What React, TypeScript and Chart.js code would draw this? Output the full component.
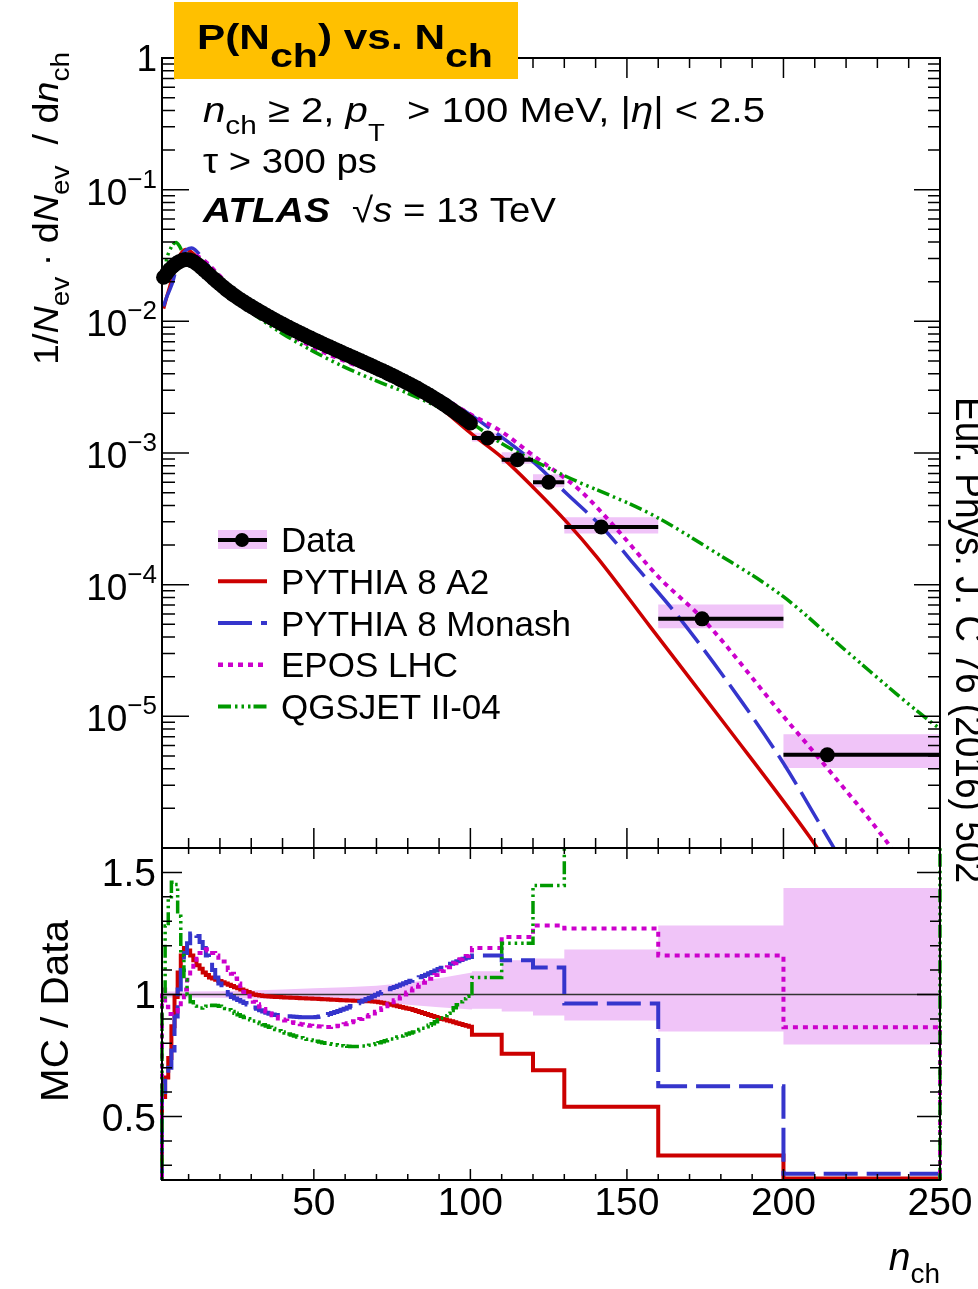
import React, { useEffect, useRef } from 'react';
import { Chart, registerables } from 'chart.js';

Chart.register(...registerables);

const W = 978;
const H = 1289;
const FONT = '"Liberation Sans", Arial, Helvetica, sans-serif';

// ---------------- axis ticks / labels ----------------
const xTickValues = [50, 100, 150, 200, 250];
const xTickLabels = ['50', '100', '150', '200', '250'];
const topTickValues = [1, 1e-1, 1e-2, 1e-3, 1e-4, 1e-5];
const topTickExponents = [0, -1, -2, -3, -4, -5];
const ratioTickValues = [0.5, 1, 1.5];
const ratioTickLabels = ['0.5', '1', '1.5'];
const legendLabels = ['Data', 'PYTHIA 8 A2', 'PYTHIA 8 Monash', 'EPOS LHC', 'QGSJET II-04'];

// ---------------- measured distribution (unit bins) ----------------
const nchFine = [
  2, 3, 4, 5, 6, 7, 8, 9, 10, 11, 12, 13, 14, 15, 16, 17, 18, 19, 20, 21,
  22, 23, 24, 25, 26, 27, 28, 29, 30, 31, 32, 33, 34, 35, 36, 37, 38, 39, 40, 41,
  42, 43, 44, 45, 46, 47, 48, 49, 50, 51, 52, 53, 54, 55, 56, 57, 58, 59, 60, 61,
  62, 63, 64, 65, 66, 67, 68, 69, 70, 71, 72, 73, 74, 75, 76, 77, 78, 79, 80, 81,
  82, 83, 84, 85, 86, 87, 88, 89, 90, 91, 92, 93, 94, 95, 96, 97, 98, 99, 100,
];
const dataFine = [
  0.0216, 0.0232, 0.0248, 0.0262, 0.0274, 0.0284, 0.0291, 0.0295, 0.0294, 0.0289,
  0.028, 0.0269, 0.0257, 0.0245, 0.0233, 0.0222, 0.0211, 0.0201, 0.0192, 0.0183,
  0.0175, 0.0168, 0.0161, 0.0155, 0.0149, 0.0144, 0.0139, 0.0134, 0.013, 0.01258,
  0.01217, 0.01179, 0.01142, 0.01107, 0.01073, 0.01041, 0.0101, 0.00981, 0.00953, 0.00926,
  0.009, 0.00876, 0.00852, 0.00829, 0.00807, 0.00786, 0.00765, 0.00746, 0.00726, 0.00708,
  0.0069, 0.00673, 0.00656, 0.0064, 0.00624, 0.00609, 0.00594, 0.0058, 0.00566, 0.00552,
  0.00539, 0.00526, 0.00513, 0.00501, 0.00489, 0.00477, 0.00465, 0.00454, 0.00442, 0.00431,
  0.00421, 0.0041, 0.00399, 0.00389, 0.00379, 0.00368, 0.00358, 0.00349, 0.00339, 0.0033,
  0.0032, 0.00311, 0.00301, 0.00292, 0.00283, 0.00274, 0.00265, 0.00256, 0.00248, 0.00239,
  0.00231, 0.00222, 0.00214, 0.00206, 0.00198, 0.00191, 0.00183, 0.00176, 0.00169,
];

// wide bins
const wideLo = [100.5, 110, 120, 130, 160, 200];
const wideHi = [110, 120, 130, 160, 200, 250];
const wideMean = [105.5, 115, 125, 141.8, 174, 214];
const dataWide = [1.3e-3, 8.9e-4, 6.0e-4, 2.74e-4, 5.5e-5, 5.1e-6];

// relative data uncertainty band
const bandFineX = [1.5, 10, 20, 30, 40, 50, 60, 70, 80, 90, 100.5];
const bandFineUp = [1.012, 1.012, 1.013, 1.016, 1.02, 1.025, 1.03, 1.036, 1.048, 1.066, 1.09];
const bandFineDn = [0.988, 0.988, 0.987, 0.984, 0.98, 0.976, 0.972, 0.966, 0.958, 0.948, 0.938];
const bandWideUp = [1.095, 1.14, 1.147, 1.184, 1.283, 1.436];
const bandWideDn = [0.942, 0.93, 0.914, 0.893, 0.848, 0.795];

// ---------------- MC predictions (top panel) ----------------
const a2X = [2, 3, 4, 5, 6, 7, 8, 9, 10, 12, 15, 20, 25, 30, 40, 50, 60, 70, 80, 90, 100, 110, 120, 131, 140.4, 157.4, 182, 208.5, 216];
const a2Y = [0.0125, 0.0153, 0.0184, 0.0228, 0.0271, 0.031, 0.0338, 0.0351, 0.0347, 0.0319, 0.0267, 0.0203, 0.016, 0.0131, 0.00943, 0.00713, 0.00552, 0.00429, 0.0032, 0.00224, 0.00142, 9.3e-4, 5.5e-4, 2.95e-4, 1.62e-4, 4.8e-5, 8.3e-6, 1.2e-6, 6.5e-7];
const monashX = [2, 3, 4, 5, 6, 7, 8, 9, 10, 11, 12, 14, 16, 18, 20, 25, 30, 40, 50, 60, 70, 80, 90, 100, 110, 120, 130.8, 142, 155, 167, 187, 200, 213.3, 220];
const monashY = [0.013, 0.0153, 0.0174, 0.0202, 0.0249, 0.029, 0.032, 0.0345, 0.0356, 0.0361, 0.0351, 0.0312, 0.027, 0.0232, 0.0201, 0.01524, 0.01239, 0.0087, 0.00659, 0.00533, 0.00442, 0.00356, 0.00274, 0.00195, 1.32e-3, 8.6e-4, 4.9e-4, 2.74e-4, 1.2e-4, 5.5e-5, 1.26e-5, 4.4e-6, 1.3e-6, 7e-7];
const eposX = [2, 3, 4, 5, 6, 7, 8, 9, 10, 12, 14, 16, 18, 20, 25, 30, 40, 50, 60, 70, 80, 90, 100, 110, 120, 135, 147, 160, 174.5, 200, 212.7, 232, 240];
const eposY = [0.022, 0.022, 0.0228, 0.0241, 0.0255, 0.027, 0.0285, 0.0301, 0.0312, 0.0316, 0.0301, 0.0276, 0.0247, 0.0221, 0.0165, 0.01277, 0.00855, 0.00632, 0.00497, 0.00411, 0.00342, 0.0027, 0.00197, 1.45e-3, 9.6e-4, 5.2e-4, 2.6e-4, 1.15e-4, 5.4e-5, 1.0e-5, 4.4e-6, 1.2e-6, 6.5e-7];
const qgsX = [2, 3, 4, 5, 6, 7, 8, 9, 10, 12, 15, 20, 25, 30, 40, 50, 60, 70, 80, 90, 100, 110, 120, 130.8, 157.4, 178.7, 200, 221, 247.8, 252];
const qgsY = [0.0212, 0.0297, 0.0347, 0.0383, 0.0397, 0.0375, 0.0338, 0.0313, 0.0294, 0.0267, 0.0232, 0.0183, 0.0143, 0.01165, 0.00806, 0.00589, 0.00447, 0.00353, 0.00284, 0.00222, 0.0017, 1.18e-3, 8.8e-4, 6.6e-4, 3.46e-4, 1.73e-4, 8.1e-5, 3.0e-5, 8.8e-6, 7.5e-6];

// ---------------- MC / Data ratios ----------------
const ratioA2Fine = [
  0.58, 0.66, 0.74, 0.87, 0.99, 1.09, 1.16, 1.19, 1.18, 1.16,
  1.14, 1.12, 1.105, 1.09, 1.08, 1.07, 1.065, 1.06, 1.055, 1.05,
  1.045, 1.04, 1.035, 1.03, 1.025, 1.02, 1.015, 1.01, 1.005, 1.0,
  0.998, 0.996, 0.994, 0.993, 0.992, 0.991, 0.99, 0.99, 0.989, 0.988,
  0.988, 0.987, 0.987, 0.986, 0.985, 0.985, 0.984, 0.983, 0.982, 0.982,
  0.981, 0.98, 0.98, 0.979, 0.978, 0.978, 0.977, 0.976, 0.976, 0.975,
  0.975, 0.974, 0.974, 0.973, 0.973, 0.972, 0.972, 0.971, 0.97, 0.968,
  0.966, 0.963, 0.96, 0.958, 0.955, 0.952, 0.949, 0.946, 0.943, 0.94,
  0.936, 0.932, 0.928, 0.924, 0.92, 0.916, 0.912, 0.908, 0.904, 0.9,
  0.897, 0.893, 0.89, 0.886, 0.882, 0.879, 0.875, 0.872, 0.868,
];
const ratioA2Wide = [0.835, 0.757, 0.69, 0.54, 0.34, 0.246];
const ratioMonashFine = [
  0.6, 0.66, 0.7, 0.77, 0.91, 1.02, 1.1, 1.17, 1.21, 1.25,
  1.255, 1.24, 1.215, 1.19, 1.16, 1.13, 1.1, 1.07, 1.045, 1.025,
  1.01, 1.0, 0.99, 0.983, 0.977, 0.971, 0.965, 0.959, 0.953, 0.947,
  0.941, 0.935, 0.93, 0.925, 0.921, 0.918, 0.916, 0.914, 0.913, 0.912,
  0.911, 0.91, 0.909, 0.908, 0.907, 0.907, 0.907, 0.907, 0.907, 0.908,
  0.91, 0.913, 0.916, 0.92, 0.924, 0.928, 0.932, 0.937, 0.942, 0.947,
  0.953, 0.958, 0.964, 0.97, 0.975, 0.981, 0.987, 0.993, 0.999, 1.005,
  1.01, 1.016, 1.021, 1.026, 1.031, 1.036, 1.041, 1.046, 1.051, 1.056,
  1.061, 1.066, 1.071, 1.076, 1.081, 1.087, 1.092, 1.098, 1.104, 1.109,
  1.115, 1.12, 1.126, 1.131, 1.136, 1.141, 1.146, 1.15, 1.154,
];
const ratioMonashWide = [1.16, 1.14, 1.11, 0.963, 0.624, 0.266];
const ratioEposFine = [
  1.02, 0.95, 0.92, 0.92, 0.93, 0.95, 0.98, 1.02, 1.06, 1.1,
  1.13, 1.155, 1.17, 1.18, 1.185, 1.18, 1.17, 1.16, 1.15, 1.135,
  1.12, 1.1, 1.085, 1.065, 1.045, 1.025, 1.01, 0.995, 0.982, 0.97,
  0.96, 0.95, 0.94, 0.93, 0.922, 0.915, 0.908, 0.902, 0.897, 0.893,
  0.889, 0.886, 0.883, 0.88, 0.878, 0.876, 0.874, 0.872, 0.871, 0.87,
  0.869, 0.868, 0.867, 0.867, 0.868, 0.87, 0.872, 0.875, 0.878, 0.882,
  0.886, 0.89, 0.895, 0.9, 0.905, 0.91, 0.916, 0.922, 0.929, 0.936,
  0.944, 0.952, 0.96, 0.968, 0.976, 0.984, 0.992, 1.0, 1.008, 1.016,
  1.024, 1.032, 1.04, 1.048, 1.056, 1.064, 1.072, 1.08, 1.088, 1.096,
  1.104, 1.112, 1.12, 1.128, 1.136, 1.144, 1.152, 1.158, 1.165,
];
const ratioEposWide = [1.19, 1.235, 1.283, 1.27, 1.16, 0.866];
const ratioQgsFine = [
  0.98, 1.28, 1.4, 1.46, 1.45, 1.32, 1.16, 1.06, 1.0, 0.97,
  0.952, 0.945, 0.945, 0.948, 0.952, 0.955, 0.956, 0.955, 0.952, 0.948,
  0.943, 0.937, 0.93, 0.923, 0.917, 0.911, 0.906, 0.901, 0.896, 0.891,
  0.886, 0.881, 0.876, 0.871, 0.866, 0.861, 0.856, 0.851, 0.846, 0.842,
  0.838, 0.834, 0.83, 0.826, 0.823, 0.82, 0.817, 0.814, 0.811, 0.808,
  0.805, 0.802, 0.8, 0.798, 0.796, 0.794, 0.792, 0.79, 0.789, 0.788,
  0.787, 0.787, 0.787, 0.788, 0.789, 0.79, 0.792, 0.795, 0.798, 0.802,
  0.806, 0.81, 0.814, 0.818, 0.822, 0.826, 0.83, 0.834, 0.838, 0.842,
  0.846, 0.851, 0.856, 0.862, 0.868, 0.874, 0.88, 0.888, 0.896, 0.904,
  0.913, 0.923, 0.934, 0.946, 0.958, 0.97, 0.982, 0.993, 1.004,
];
const ratioQgsWide = [1.07, 1.21, 1.446, 2.2, 3.5, 6.0];

// ---------------- styles ----------------
const COL_RED = '#cc0000';
const COL_BLUE = '#3535cc';
const COL_MAG = '#cc00cc';
const COL_GREEN = '#009900';
const COL_BAND = '#f0c4f8';
const DASH_BLUE = [34, 9];
const DASH_MAG = [5, 5];
const DASH_GREEN = [13, 4, 2.5, 4, 2.5, 4, 2.5, 3];

const F = (size: number, style = '') => `${style} ${size}px ${FONT}`.trim();

type Run = { t: string; f: string; dy?: number };

function drawRuns(ctx: CanvasRenderingContext2D, x: number, y: number, runs: Run[], opt: { align?: string; width?: number; angle?: number } = {}) {
  const { align = 'left', width, angle = 0 } = opt;
  ctx.save();
  ctx.translate(x, y);
  if (angle) ctx.rotate(angle);
  let natural = 0;
  for (const r of runs) {
    ctx.font = r.f;
    natural += ctx.measureText(r.t).width;
  }
  const sx = width ? width / natural : 1;
  const total = natural * sx;
  const start = align === 'left' ? 0 : align === 'right' ? -total : -total / 2;
  ctx.translate(start, 0);
  ctx.scale(sx, 1);
  ctx.textAlign = 'left';
  ctx.textBaseline = 'alphabetic';
  ctx.fillStyle = '#000';
  let cx = 0;
  for (const r of runs) {
    ctx.font = r.f;
    ctx.fillText(r.t, cx, r.dy || 0);
    cx += ctx.measureText(r.t).width;
  }
  ctx.restore();
}

const pts = (xs: number[], ys: number[]) => xs.map((x, i) => ({ x, y: ys[i] }));

function histPoints(fine: number[], wide: number[]) {
  const p: any[] = [{ x: nchFine[0] - 0.5, y: 0 }];
  nchFine.forEach((n, i) => {
    p.push({ x: n - 0.5, y: fine[i] }, { x: n + 0.5, y: fine[i] });
  });
  wideLo.forEach((lo, i) => {
    p.push({ x: lo, y: wide[i] }, { x: wideHi[i], y: wide[i] });
  });
  p.push({ x: wideHi[wideHi.length - 1], y: 0 });
  return p;
}

function ratioBand(fine: number[], wide: number[]) {
  const p: any[] = bandFineX.map((x, i) => ({ x, y: fine[i] }));
  wideLo.forEach((lo, i) => {
    p.push({ x: lo, y: wide[i] }, { x: wideHi[i], y: wide[i] });
  });
  return p;
}

function topBand(rel: number[]) {
  const p: any[] = [];
  wideLo.forEach((lo, i) => {
    const v = dataWide[i] * rel[i];
    p.push({ x: lo, y: v }, { x: wideHi[i], y: v });
  });
  return p;
}

function errorBarPoints() {
  const p: any[] = [];
  wideLo.forEach((lo, i) => {
    p.push({ x: lo, y: dataWide[i] }, { x: wideHi[i], y: dataWide[i] }, { x: wideHi[i], y: null });
  });
  return p;
}

function lineDs(data: any[], color: string, width: number, dash: number[], order: number, extra: any = {}) {
  return {
    data,
    borderColor: color,
    backgroundColor: color,
    borderWidth: width,
    borderDash: dash,
    borderCapStyle: 'butt',
    borderJoinStyle: 'miter',
    pointRadius: 0,
    pointHoverRadius: 0,
    fill: false,
    tension: 0,
    order,
    clip: 0,
    ...extra,
  };
}

function drawTicks(ctx: CanvasRenderingContext2D, chart: any, xMaj: number, xMin: number, yTicks: { v: number; major: boolean }[], yMajL: number, yMinL: number, yMajR: number, yMinR: number) {
  const a = chart.chartArea;
  const xs = chart.scales.x;
  const ys = chart.scales.y;
  ctx.save();
  ctx.setLineDash([]);
  ctx.strokeStyle = '#000';
  ctx.lineWidth = 2;
  ctx.strokeRect(a.left, a.top, a.right - a.left, a.bottom - a.top);
  ctx.lineWidth = 1.5;
  ctx.beginPath();
  for (let i = 1; i < 25; i++) {
    const px = xs.getPixelForValue(10 * i);
    const len = i % 5 === 0 ? xMaj : xMin;
    ctx.moveTo(px, a.bottom);
    ctx.lineTo(px, a.bottom - len);
    ctx.moveTo(px, a.top);
    ctx.lineTo(px, a.top + len);
  }
  for (const t of yTicks) {
    const py = ys.getPixelForValue(t.v);
    ctx.moveTo(a.left, py);
    ctx.lineTo(a.left + (t.major ? yMajL : yMinL), py);
    ctx.moveTo(a.right, py);
    ctx.lineTo(a.right - (t.major ? yMajR : yMinR), py);
  }
  ctx.stroke();
  ctx.restore();
}

const topDecor = {
  id: 'topDecor',
  afterDraw(chart: any) {
    const ctx: CanvasRenderingContext2D = chart.ctx;
    const ys = chart.scales.y;
    const yTicks: { v: number; major: boolean }[] = [];
    for (let e = -6; e <= 0; e++) {
      yTicks.push({ v: Math.pow(10, e), major: true });
      if (e < 0) for (let k = 2; k <= 9; k++) yTicks.push({ v: k * Math.pow(10, e), major: false });
    }
    drawTicks(ctx, chart, 20, 10, yTicks, 27, 13, 26, 12);

    // y tick labels
    topTickValues.forEach((v, i) => {
      const py = ys.getPixelForValue(v);
      const e = topTickExponents[i];
      if (e === 0) drawRuns(ctx, 157, py + 13, [{ t: '1', f: F(37) }], { align: 'right' });
      else drawRuns(ctx, 157, py + 15, [{ t: '10', f: F(37) }, { t: '\u2212' + Math.abs(e), f: F(26), dy: -17 }], { align: 'right' });
    });

    // y axis title
    drawRuns(ctx, 58, 365, [
      { t: '1/', f: F(35) },
      { t: 'N', f: F(35, 'italic') },
      { t: 'ev', f: F(26), dy: 11 },
      { t: ' \u00b7 d', f: F(35) },
      { t: 'N', f: F(35, 'italic') },
      { t: 'ev', f: F(26), dy: 11 },
      { t: '  / d', f: F(35) },
      { t: 'n', f: F(35, 'italic') },
      { t: 'ch', f: F(26), dy: 11 },
    ], { angle: -Math.PI / 2, width: 313 });

    // annotations
    drawRuns(ctx, 203, 122, [
      { t: 'n', f: F(35, 'italic') },
      { t: 'ch', f: F(26), dy: 12 },
      { t: ' \u2265 2, ', f: F(35) },
      { t: 'p', f: F(35, 'italic') },
      { t: 'T', f: F(24), dy: 19 },
      { t: '  > 100 MeV, |', f: F(35) },
      { t: '\u03b7', f: F(35, 'italic') },
      { t: '| < 2.5', f: F(35) },
    ], { width: 562 });
    drawRuns(ctx, 203, 173, [{ t: '\u03c4 > 300 ps', f: F(35) }], { width: 174 });
    drawRuns(ctx, 203, 222, [{ t: 'ATLAS', f: F(35, 'italic bold') }], { width: 127 });
    drawRuns(ctx, 352, 222, [
      { t: '\u221a', f: F(35) },
      { t: 's', f: F(35, 'italic') },
      { t: ' = 13 TeV', f: F(35) },
    ], { width: 204 });

    // legend
    const ly0 = 552;
    const step = 41.75;
    ctx.save();
    ctx.fillStyle = COL_BAND;
    ctx.fillRect(218, 530, 49, 19);
    ctx.strokeStyle = '#000';
    ctx.lineWidth = 4;
    ctx.beginPath();
    ctx.moveTo(218, ly0 - 12);
    ctx.lineTo(267, ly0 - 12);
    ctx.stroke();
    ctx.fillStyle = '#000';
    ctx.beginPath();
    ctx.arc(242, ly0 - 12, 7, 0, Math.PI * 2);
    ctx.fill();
    const samples = [
      { c: COL_RED, d: [] as number[], w: 4 },
      { c: COL_BLUE, d: DASH_BLUE, w: 4 },
      { c: COL_MAG, d: DASH_MAG, w: 4.5 },
      { c: COL_GREEN, d: DASH_GREEN, w: 4 },
    ];
    samples.forEach((s, i) => {
      const yy = ly0 + step * (i + 1) - 12.5;
      ctx.strokeStyle = s.c;
      ctx.lineWidth = s.w;
      ctx.lineCap = 'butt';
      ctx.setLineDash(s.d);
      ctx.beginPath();
      ctx.moveTo(218, yy);
      ctx.lineTo(267, yy);
      ctx.stroke();
    });
    ctx.restore();
    legendLabels.forEach((lab, i) => {
      drawRuns(ctx, 281, ly0 + step * i, [{ t: lab, f: F(35) }]);
    });

    // journal reference (rotated, cut by the page edge)
    drawRuns(ctx, 956, 397, [{ t: 'Eur. Phys. J. C 76 (2016) 502', f: F(41) }], { angle: Math.PI / 2, width: 486 });

    // title box
    ctx.save();
    ctx.fillStyle = '#ffc000';
    ctx.fillRect(174, 2, 344, 77);
    ctx.restore();
    drawRuns(ctx, 197, 49, [
      { t: 'P(N', f: F(35, 'bold') },
      { t: 'ch', f: F(34, 'bold'), dy: 18 },
      { t: ') vs. N', f: F(35, 'bold') },
      { t: 'ch', f: F(34, 'bold'), dy: 18 },
    ], { width: 296 });
  },
};

const bottomDecor = {
  id: 'bottomDecor',
  afterDraw(chart: any) {
    const ctx: CanvasRenderingContext2D = chart.ctx;
    const xs = chart.scales.x;
    const ys = chart.scales.y;
    const yTicks: { v: number; major: boolean }[] = [];
    for (let i = 3; i <= 16; i++) yTicks.push({ v: i / 10, major: i % 5 === 0 });
    drawTicks(ctx, chart, 11, 6, yTicks, 20, 10, 23, 10);

    ratioTickValues.forEach((v, i) => {
      const py = ys.getPixelForValue(v);
      drawRuns(ctx, 156, py + 14, [{ t: ratioTickLabels[i], f: F(39) }], { align: 'right' });
    });
    xTickValues.forEach((v, i) => {
      const px = xs.getPixelForValue(v);
      drawRuns(ctx, px, 1215, [{ t: xTickLabels[i], f: F(39) }], { align: 'center' });
    });
    drawRuns(ctx, 68, 1102, [{ t: 'MC / Data', f: F(39) }], { angle: -Math.PI / 2, width: 182 });
    drawRuns(ctx, 940, 1270, [
      { t: 'n', f: F(39, 'italic') },
      { t: 'ch', f: F(28), dy: 13 },
    ], { align: 'right' });
  },
};

function topConfig(): any {
  const dataPts = pts(nchFine, dataFine).concat(pts(wideMean, dataWide));
  return {
    type: 'line',
    data: {
      datasets: [
        lineDs(topBand(bandWideUp), COL_BAND, 0, [], 10, { fill: '+1', backgroundColor: COL_BAND, borderColor: 'rgba(0,0,0,0)' }),
        lineDs(topBand(bandWideDn), COL_BAND, 0, [], 10, { borderColor: 'rgba(0,0,0,0)' }),
        lineDs(pts(a2X, a2Y), COL_RED, 3.5, [], 5, { cubicInterpolationMode: 'monotone' }),
        lineDs(pts(monashX, monashY), COL_BLUE, 3.5, DASH_BLUE, 4, { cubicInterpolationMode: 'monotone' }),
        lineDs(pts(eposX, eposY), COL_MAG, 4, DASH_MAG, 3, { cubicInterpolationMode: 'monotone' }),
        lineDs(pts(qgsX, qgsY), COL_GREEN, 3.5, DASH_GREEN, 2, { cubicInterpolationMode: 'monotone' }),
        lineDs(errorBarPoints(), '#000', 4, [], 1, { spanGaps: false }),
        {
          data: dataPts,
          showLine: false,
          pointRadius: 7.5,
          pointHoverRadius: 7.5,
          pointBackgroundColor: '#000',
          pointBorderWidth: 0,
          borderColor: '#000',
          order: 0,
          clip: false,
        },
      ],
    },
    options: {
      animation: false,
      responsive: false,
      devicePixelRatio: 1,
      events: [],
      layout: { padding: { left: 162, right: W - 940, top: 58, bottom: H - 848 } },
      scales: {
        x: { type: 'linear', min: 1.5, max: 250, display: false },
        y: { type: 'logarithmic', min: 1e-6, max: 1, display: false },
      },
      plugins: { legend: { display: false }, tooltip: { enabled: false }, title: { display: false } },
    },
    plugins: [topDecor],
  };
}

function bottomConfig(): any {
  const edgeClip = { left: 2, right: 2, top: 0, bottom: 0 };
  return {
    type: 'line',
    data: {
      datasets: [
        lineDs(ratioBand(bandFineUp, bandWideUp), COL_BAND, 0, [], 10, { fill: '+1', backgroundColor: COL_BAND, borderColor: 'rgba(0,0,0,0)' }),
        lineDs(ratioBand(bandFineDn, bandWideDn), COL_BAND, 0, [], 10, { borderColor: 'rgba(0,0,0,0)' }),
        lineDs([{ x: 1.5, y: 1 }, { x: 250, y: 1 }], '#333', 1.5, [], 6),
        lineDs(histPoints(ratioA2Fine, ratioA2Wide), COL_RED, 4, [], 4, { clip: edgeClip }),
        lineDs(histPoints(ratioMonashFine, ratioMonashWide), COL_BLUE, 4, DASH_BLUE, 3, { clip: edgeClip }),
        lineDs(histPoints(ratioEposFine, ratioEposWide), COL_MAG, 4, DASH_MAG, 2, { clip: edgeClip }),
        lineDs(histPoints(ratioQgsFine, ratioQgsWide), COL_GREEN, 3.5, DASH_GREEN, 1, { clip: edgeClip }),
      ],
    },
    options: {
      animation: false,
      responsive: false,
      devicePixelRatio: 1,
      events: [],
      layout: { padding: { left: 162, right: W - 940, top: 848, bottom: H - 1180 } },
      scales: {
        x: { type: 'linear', min: 1.5, max: 250, display: false },
        y: { type: 'linear', min: 0.24, max: 1.6, display: false },
      },
      plugins: { legend: { display: false }, tooltip: { enabled: false }, title: { display: false } },
    },
    plugins: [bottomDecor],
  };
}

export default function App() {
  const topRef = useRef<HTMLCanvasElement>(null);
  const botRef = useRef<HTMLCanvasElement>(null);

  useEffect(() => {
    document.body.style.margin = '0';
    const bottom = new Chart(botRef.current as HTMLCanvasElement, bottomConfig());
    const top = new Chart(topRef.current as HTMLCanvasElement, topConfig());
    return () => {
      top.destroy();
      bottom.destroy();
    };
  }, []);

  return (
    <div style={{ position: 'absolute', left: 0, top: 0, width: W, height: H, background: '#fff', overflow: 'hidden' }}>
      <canvas ref={botRef} width={W} height={H} style={{ position: 'absolute', left: 0, top: 0, width: W, height: H }} />
      <canvas ref={topRef} width={W} height={H} style={{ position: 'absolute', left: 0, top: 0, width: W, height: H }} />
    </div>
  );
}
